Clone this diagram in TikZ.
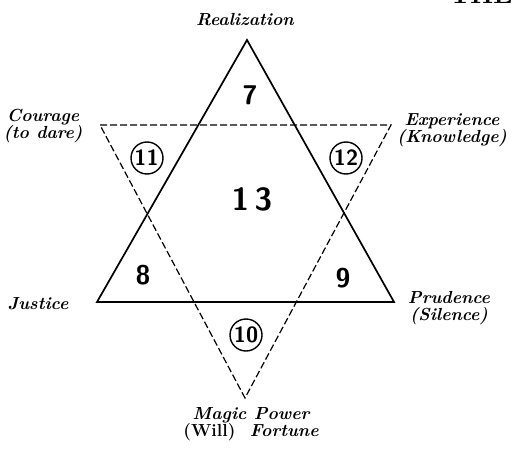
\documentclass[tikz,border=0pt]{standalone}
\usepackage{tikz}
\usetikzlibrary{positioning, calc}

\tikzset{
  solidline/.style={line width=1.7pt, line join=miter},
  dashline/.style={line width=1.2pt, dash pattern=on 7pt off 3pt},
  lbl/.style={font=\fontsize{17.5}{17}\selectfont\bfseries\itshape, align=center, inner sep=0pt},
  num/.style={font=\fontsize{27}{28}\selectfont\sffamily\bfseries, inner sep=0pt},
  ringnum/.style={draw, circle, line width=1.4pt, minimum size=32pt, inner sep=0pt,
    font=\fontsize{22}{22}\selectfont\sffamily\bfseries}
}

\begin{document}
\begin{tikzpicture}[x=1pt, y=-1pt]
        \useasboundingbox (0,0) rectangle (513,449);

        % Corner
        \node[font=\fontsize{26}{26}\selectfont\bfseries, anchor=north east] (corner) at (516,-18) {THE};

        % Solid triangle
        \coordinate (sTop) at (247,40);
        \coordinate (sLeft) at (97,302);
        \coordinate (sRight) at (394,302);
        \draw[solidline] (sTop) -- (sLeft) -- (sRight) -- cycle;

        % Dashed triangle
        \coordinate (dLeft) at (100,125);
        \coordinate (dRight) at (391,125);
        \coordinate (dBot) at (245,398);
        \draw[dashline] (dLeft) -- (dRight) -- (dBot) -- cycle;

        % Numbers
        \node[num] (n7) at (250,95) {7};
        \node[num, font=\fontsize{32}{32}\selectfont\sffamily\bfseries] (n13) at (252,199) {1\,3};
        \node[num] (n8) at (143,275) {8};
        \node[num] (n9) at (343,278) {9};
        \node[ringnum] (n11) at (147,158) {\kern-1pt 11};
        \node[ringnum] (n12) at (346,158) {12};
        \node[ringnum] (n10) at (246,335) {10};

        % Labels
        \node[lbl] (real) at (245,20) {Realization};
        \node[lbl] (cour) at (43,126) {Courage\\(to dare)};
        \node[lbl] (expe) at (452,130) {Experience\\(Knowledge)};
        \node[lbl] (just) at (38,304) {Justice};
        \node[lbl] (prud) at (449,308) {Prudence\\(Silence)};
        \node[lbl] (magi) at (251,424) {Magic Power\\{\upshape(Will)}\ \ Fortune};
      \end{tikzpicture}
\end{document}
